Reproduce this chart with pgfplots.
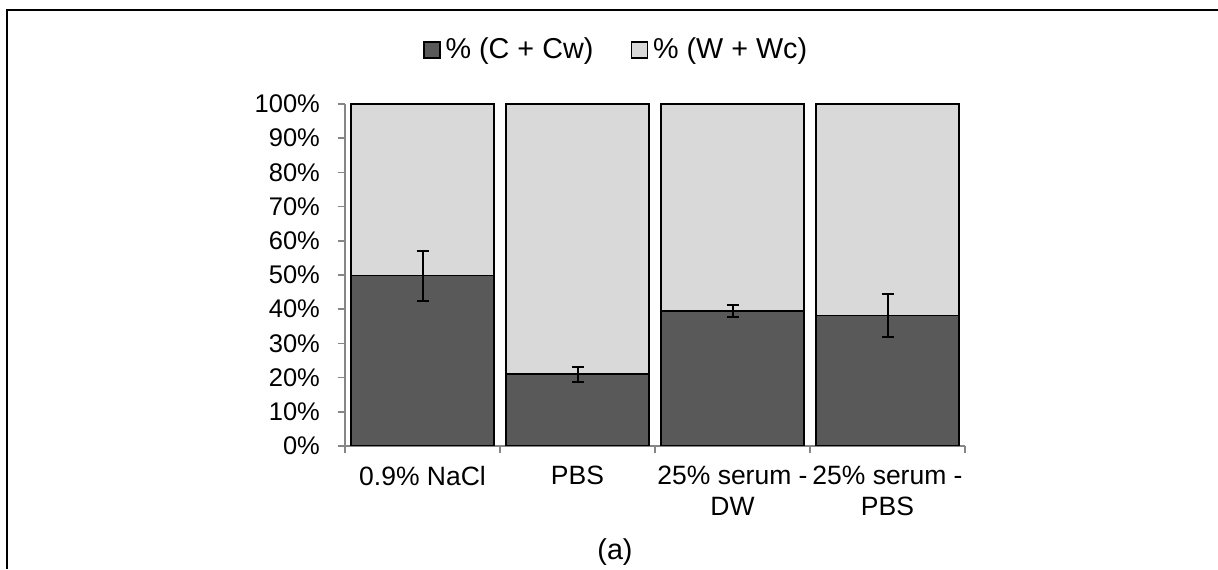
\documentclass[border=0pt]{standalone}
\usepackage{pgfplots}
\pgfplotsset{compat=1.18}
\usepackage{fontspec}
\setmainfont{Liberation Sans}

\definecolor{darkbar}{RGB}{89,89,89}
\definecolor{lightbar}{RGB}{217,217,217}
\definecolor{axisgray}{RGB}{134,134,134}

% shared geometry of the bar axis and the error-bar overlay
\pgfplotsset{chartbox/.style={
    scale only axis, width=248pt, height=136.8pt,
    at={(138pt,49.2pt)}, anchor=south west,
    xmin=0.5, xmax=4.5, ymin=0, ymax=100}}

\begin{document}
\begin{tikzpicture}[font=\fontsize{10.2}{12}\selectfont]
\path[use as bounding box] (0,0) rectangle (487.2pt,227.6pt);
% frame pieces of the original figure
\draw[line width=1pt] (2.8pt,0) -- (2.8pt,223.6pt) -- (94.4pt,223.6pt);
\draw[line width=0.5pt] (94.4pt,223.6pt) -- (397.2pt,223.6pt);
\draw[line width=1pt] (397.2pt,223.6pt) -- (487.2pt,223.6pt);

\begin{axis}[chartbox,
    ybar stacked, bar width=0.923,
    axis x line=bottom, axis y line=left,
    axis line style={axisgray,-, line width=0.6pt},
    tick align=outside, tick style={axisgray, line width=0.6pt},
    major tick length=3pt, minor tick length=3pt,
    ytick={0,10,...,100},
    yticklabels={0\%,10\%,20\%,30\%,40\%,50\%,60\%,70\%,80\%,90\%,100\%},
    yticklabel style={xshift=-3.5pt},
    xtick={1,2,3,4},
    xticklabels={0.9\% NaCl, PBS, {25\% serum -\\DW}, {25\% serum -\\PBS}},
    xticklabel style={align=center, yshift=-1.5pt, font=\fontsize{10.6}{12.3}\selectfont},
    major x tick style={draw=none},
    minor xtick={0.5,1.5,2.5,3.5,4.5},
    legend style={draw=none, fill=none, at={(0.44,1.158)}, anchor=center,
        font=\fontsize{11.5}{13}\selectfont,
        legend columns=2, /tikz/every even column/.append style={column sep=13pt}},
    ]
\addplot[fill=darkbar, draw=black, line width=0.6pt,
    legend image code/.code={\draw[fill=darkbar, draw=black, line width=0.6pt] (0cm,-0.11cm) rectangle (0.22cm,0.11cm);}]
    coordinates {(1,49.8) (2,21.0) (3,39.5) (4,38.1)};
\addplot[fill=lightbar, draw=black, line width=0.6pt,
    legend image code/.code={\draw[fill=lightbar, draw=black, line width=0.6pt] (0cm,-0.11cm) rectangle (0.22cm,0.11cm);}]
    coordinates {(1,50.2) (2,79.0) (3,60.5) (4,61.9)};
\legend{\% (C + Cw), \% (W + Wc)}
\end{axis}

% error bars of the lower series, drawn on top of both stacks
\begin{axis}[chartbox, hide axis]
\addplot[draw=none, mark=none,
    error bars/.cd, y dir=both, y explicit,
    error bar style={line width=0.8pt, draw=black},
    error mark options={rotate=90, mark size=2.4pt, line width=0.8pt, draw=black}]
    coordinates {(1,49.75) +- (0,7.25) (2,20.95) +- (0,2.25) (3,39.45) +- (0,1.75) (4,38.15) +- (0,6.25)};
\end{axis}

\node[font=\fontsize{11.5}{13}\selectfont] at (246pt,6.8pt) {(a)};
\end{tikzpicture}
\end{document}
